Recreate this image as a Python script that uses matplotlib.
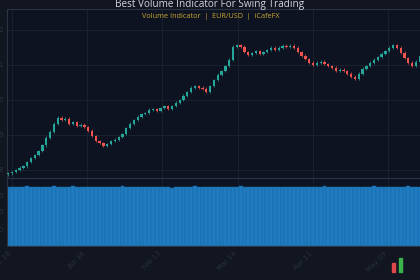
"""
Candlestick + volume chart, dark theme (EUR/USD).
"""
import numpy as np
import matplotlib
matplotlib.use("Agg")
import matplotlib.pyplot as plt
from matplotlib.patches import Rectangle

# daily closes
closes = [
    1.0791, 1.0794, 1.0800, 1.0806, 1.0811, 1.0823, 1.0834, 1.0843, 1.0854, 1.0871,
    1.0892, 1.0909, 1.0932, 1.0949, 1.0943, 1.0946, 1.0932, 1.0937, 1.0926, 1.0929,
    1.0923, 1.0912, 1.0897, 1.0883, 1.0877, 1.0869, 1.0874, 1.0883, 1.0886, 1.0894,
    1.0903, 1.0920, 1.0932, 1.0943, 1.0952, 1.0960, 1.0963, 1.0972, 1.0974, 1.0969,
    1.0977, 1.0983, 1.0974, 1.0983, 1.0992, 1.1000, 1.1012, 1.1023, 1.1035, 1.1040,
    1.1035, 1.1032, 1.1023, 1.1040, 1.1057, 1.1072, 1.1083, 1.1097, 1.1115, 1.1152,
    1.1157, 1.1152, 1.1137, 1.1129, 1.1134, 1.1140, 1.1132, 1.1137, 1.1143, 1.1149,
    1.1143, 1.1149, 1.1155, 1.1152, 1.1155, 1.1149, 1.1137, 1.1126, 1.1117, 1.1106,
    1.1100, 1.1106, 1.1109, 1.1103, 1.1097, 1.1092, 1.1083, 1.1086, 1.1083, 1.1075,
    1.1066, 1.1060, 1.1075, 1.1089, 1.1097, 1.1106, 1.1115, 1.1123, 1.1132, 1.1140,
    1.1149, 1.1157, 1.1149, 1.1135, 1.1120, 1.1106, 1.1097, 1.1109, 1.1126, 1.1137,
]
first_open = 1.0788

volumes = [
    872, 868, 875, 866, 870, 878, 864, 871, 869, 874,
    862, 870, 876, 867, 873, 865, 871, 879, 868, 874,
    866, 872, 869, 861, 870, 875, 868, 873, 866, 871,
    877, 864, 870, 868, 874, 862, 869, 873, 866, 871,
    875, 867, 872, 860, 868, 874, 869, 865, 872, 876,
    866, 870, 863, 869, 874, 868, 871, 865, 873, 867,
    870, 876, 864, 869, 872, 866, 874, 868, 863, 871,
    869, 875, 866, 870, 873, 862, 868, 874, 867, 871,
    865, 872, 869, 876, 866, 870, 864, 873, 868, 871,
    875, 867, 869, 872, 864, 870, 876, 868, 873, 866,
    871, 869, 874, 865, 870, 877, 867, 872, 868, 870,
]

tick_labels = ["Dec 18", "Jan 16", "Feb 13", "Mar 14", "Apr 11", "May 09"]
price_ticks = [1.08, 1.09, 1.10, 1.11, 1.12]
vol_ticks = [250, 500, 750]

BG_FIG = "#111621"
BG_AX = "#0d1320"
GRID = "#1c2331"
SPINE = "#2c3344"
UP = "#26a69a"
DOWN = "#ef5350"
VOL = "#1f7cc0"
TXT = "#2a303d"


def main():
    closes_arr = np.array(closes)
    opens = np.r_[first_open, closes_arr[:-1]]
    idx = np.arange(len(closes_arr))
    highs = np.maximum(opens, closes_arr) + 0.0004
    lows = np.minimum(opens, closes_arr) - 0.0004
    colors = [UP if c >= o else DOWN for o, c in zip(opens, closes_arr)]

    fig = plt.figure(figsize=(4.2, 2.8), dpi=100, facecolor=BG_FIG)
    ax = fig.add_axes([7 / 420, 102 / 280, 428 / 420, 169 / 280], facecolor=BG_AX)
    axv = fig.add_axes([7 / 420, 34 / 280, 428 / 420, 68 / 280], facecolor=BG_AX, sharex=ax)

    # candles
    ax.vlines(idx, lows, highs, colors=colors, linewidth=0.5, zorder=2)
    body_low = np.minimum(opens, closes_arr)
    body_h = np.maximum(np.abs(closes_arr - opens), 0.00015)
    ax.bar(idx, body_h, bottom=body_low, width=0.6, color=colors, linewidth=0, zorder=3)

    # volume
    axv.bar(idx, volumes, width=1.0, color=VOL, edgecolor="#1a67a2",
            linewidth=0.35, zorder=2)

    xticks = [1, 20.8, 40.5, 60.3, 80, 99.7]
    for a in (ax, axv):
        a.set_xlim(-0.3, 112)
        a.set_xticks(xticks)
        a.grid(True, color=GRID, linewidth=0.6, zorder=0)
        a.set_axisbelow(True)
        for s in a.spines.values():
            s.set_color(SPINE)
            s.set_linewidth(0.8)
        a.tick_params(length=0, colors=TXT, labelsize=5, pad=2)

    ax.set_ylim(1.0777, 1.1260)
    ax.set_yticks(price_ticks)
    ax.set_yticklabels([f"{v:.2f}" for v in price_ticks], color=TXT)
    ax.tick_params(axis="x", labelbottom=False)

    axv.set_ylim(0, 1000)
    axv.set_yticks(vol_ticks)
    axv.set_yticklabels([str(v) for v in vol_ticks], color=TXT)
    axv.grid(False, axis="y")
    axv.set_xticklabels(tick_labels, rotation=45, ha="right", color=TXT)
    axv.tick_params(axis="x", pad=3)

    fig.text(0.5, 1 - 4 / 280, "Best Volume Indicator For Swing Trading",
             ha="center", va="center", color="#d3d6de", fontsize=7.2, family="Open Sans")
    fig.text(0.501, 1 - 16 / 280, "Volume Indicator  |  EUR/USD  |  iCafeFX",
             ha="center", va="center", color="#c9a632", fontsize=5.2, family="Open Sans")

    # small logo bottom right
    fig.patches.append(Rectangle((392 / 420, 8 / 280), 3 / 420, 9 / 280,
                                 transform=fig.transFigure, color="#e0474c"))
    fig.patches.append(Rectangle((399 / 420, 8 / 280), 3 / 420, 14 / 280,
                                 transform=fig.transFigure, color="#3bb34a"))

    fig.savefig("out.png", dpi=100, facecolor=BG_FIG)


if __name__ == "__main__":
    main()
